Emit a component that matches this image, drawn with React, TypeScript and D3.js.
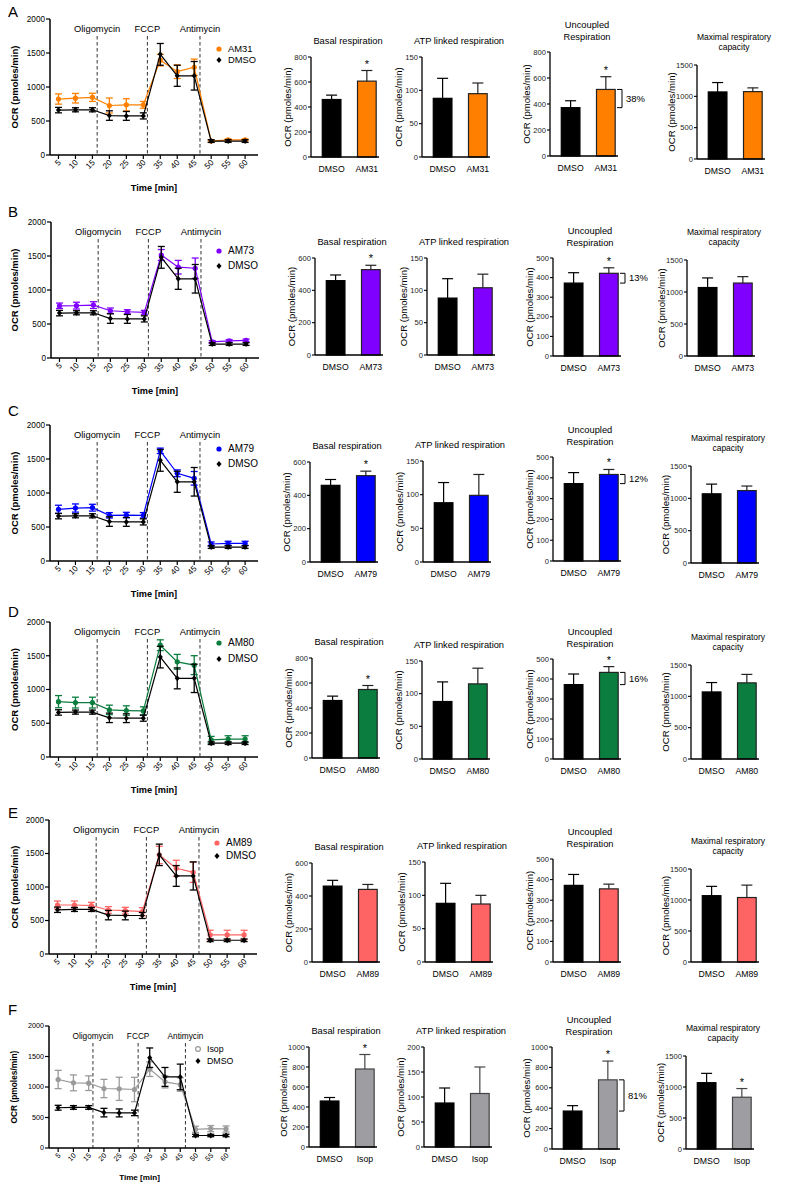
import React from "react";
import * as d3 from "d3";

const FONT = "'Liberation Sans', Arial, Helvetica, sans-serif";

// ---------- time-course data (OCR, pmoles/min) ----------
const times = [5, 10, 15, 20, 25, 30, 35, 40, 45, 50, 55, 60];
const injectionNames = ["Oligomycin", "FCCP", "Antimycin"];
const injectionTimes = [16.4, 31.2, 46.7];
const ocrTicks = [0, 500, 1000, 1500, 2000];

const dmsoOCR = [660, 665, 665, 580, 575, 575, 1480, 1165, 1165, 205, 205, 205];
const dmsoOCRErr = [40, 30, 30, 70, 65, 45, 160, 155, 210, 20, 20, 20];

const am31OCR = [823, 835, 848, 728, 738, 738, 1395, 1225, 1290, 205, 222, 222];
const am31OCRErr = [75, 70, 60, 110, 90, 50, 85, 100, 120, 15, 15, 15];
const am73OCR = [768, 770, 778, 695, 680, 670, 1515, 1335, 1320, 236, 251, 258];
const am73OCRErr = [40, 50, 50, 40, 30, 30, 80, 100, 150, 20, 20, 20];
const am79OCR = [760, 779, 784, 672, 676, 672, 1620, 1290, 1216, 250, 260, 260];
const am79OCRErr = [60, 60, 50, 40, 40, 40, 40, 50, 100, 30, 30, 30];
const am80OCR = [820, 806, 806, 698, 688, 683, 1656, 1410, 1361, 255, 265, 265];
const am80OCRErr = [90, 80, 80, 70, 70, 60, 80, 110, 140, 50, 50, 50];
const am89OCR = [731, 731, 721, 657, 647, 632, 1478, 1279, 1219, 284, 284, 284];
const am89OCRErr = [60, 60, 50, 50, 50, 60, 130, 120, 150, 70, 70, 70];
const isopOCR = [1123, 1068, 1063, 975, 970, 959, 1293, 1085, 1041, 307, 318, 312];
const isopOCRErr = [150, 130, 120, 150, 190, 200, 120, 100, 110, 50, 50, 50];

// ---------- bar data: [Basal, ATP linked, Uncoupled, Maximal] ----------
const treatments = ["AM31", "AM73", "AM79", "AM80", "AM89", "Isop"];
const panelLetters = ["A", "B", "C", "D", "E", "F"];
const barTitles = [
  ["Basal respiration"],
  ["ATP linked respiration"],
  ["Uncoupled", "Respiration"],
  ["Maximal respiratory", "capacity"],
];
const dmsoBars = [460, 88, 372, 1070];
const dmsoBarErr = [35, 30, 53, 150];
const am31Bars = [607, 95, 512, 1075];
const am31BarErr = [85, 16, 98, 60];
const am73Bars = [528, 104, 422, 1140];
const am73BarErr = [27, 21, 28, 100];
const am79Bars = [518, 99, 416, 1120];
const am79BarErr = [27, 31, 24, 70];
const am80Bars = [548, 115, 433, 1215];
const am80BarErr = [32, 24, 29, 135];
const am89Bars = [440, 87, 355, 1040];
const am89BarErr = [30, 13, 23, 200];
const isopBars = [780, 107, 678, 835];
const isopBarErr = [145, 53, 184, 140];

const axisMaxA = [800, 150, 800, 1500];
const axisMaxB = [600, 150, 500, 1500];
const axisMaxC = [600, 150, 500, 1500];
const axisMaxD = [800, 150, 500, 1500];
const axisMaxE = [600, 150, 500, 1500];
const axisMaxF = [1000, 200, 1000, 1500];
const axisStepA = [200, 50, 200, 500];
const axisStepB = [200, 50, 100, 500];
const axisStepC = [200, 50, 100, 500];
const axisStepD = [200, 50, 100, 500];
const axisStepE = [200, 50, 100, 500];
const axisStepF = [200, 50, 200, 500];

const significantA = [true, false, true, false];
const significantB = [true, false, true, false];
const significantC = [true, false, true, false];
const significantD = [true, false, true, false];
const significantE = [false, false, false, false];
const significantF = [true, false, true, true];
const uncoupledIncrease = ["38%", "13%", "12%", "16%", "", "81%"];

// ---------- assembled tables ----------
const seriesOCR = [am31OCR, am73OCR, am79OCR, am80OCR, am89OCR, isopOCR];
const seriesOCRErr = [am31OCRErr, am73OCRErr, am79OCRErr, am80OCRErr, am89OCRErr, isopOCRErr];
const seriesBars = [am31Bars, am73Bars, am79Bars, am80Bars, am89Bars, isopBars];
const seriesBarErr = [am31BarErr, am73BarErr, am79BarErr, am80BarErr, am89BarErr, isopBarErr];
const axisMax = [axisMaxA, axisMaxB, axisMaxC, axisMaxD, axisMaxE, axisMaxF];
const axisStep = [axisStepA, axisStepB, axisStepC, axisStepD, axisStepE, axisStepF];
const significant = [significantA, significantB, significantC, significantD, significantE, significantF];

// ---------- styles & layout ----------
const lineColors = ["#FF8000", "#8000FF", "#0000FF", "#0B7D3E", "#FF6464", "#9A9A9A"];
const barColors = ["#FF8000", "#8000FF", "#0000FF", "#0B7D3E", "#FF6464", "#9E9EA2"];
const barStrokes = ["#222", "#222", "#222", "#222", "#222", "#444"];

const letterY = [17, 217, 416, 617, 818, 1015];
const lineLayouts = [
  { top: 19, bot: 155, left: 50, right: 258, tMin: 2.5, tMax: 63.8, leg: [49, 60], lx: 219, fs: 1 },
  { top: 222, bot: 358, left: 51, right: 259, tMin: 2.5, tMax: 63.8, leg: [251, 266], lx: 219, fs: 1 },
  { top: 425, bot: 561, left: 50, right: 258, tMin: 2.5, tMax: 63.8, leg: [449, 464], lx: 219, fs: 1 },
  { top: 622, bot: 757, left: 50, right: 258, tMin: 2.5, tMax: 63.8, leg: [643, 659], lx: 219, fs: 1 },
  { top: 820, bot: 954, left: 49, right: 257, tMin: 2.5, tMax: 63.8, leg: [843, 856], lx: 217, fs: 1 },
  { top: 1026, bot: 1148, left: 49, right: 230, tMin: 2, tMax: 61.3, leg: [1049, 1061], lx: 198, fs: 0.88 },
];
// [axisX, topY, bottomY] for each bar panel
const barLayouts = [
  [[311, 57, 157], [422, 57, 157], [550, 52, 156], [697, 65, 159]],
  [[315, 258, 355], [427, 258, 355], [553, 258, 356], [687, 260, 356]],
  [[310, 462, 562], [423, 461, 562], [553, 457, 561], [691, 466, 563]],
  [[312, 658, 758], [422, 661, 759], [553, 659, 759], [691, 665, 759]],
  [[312, 863, 962], [425, 862, 962], [553, 859, 962], [691, 869, 962]],
  [[309, 1047, 1147], [424, 1047, 1147], [552, 1047, 1149], [686, 1056, 1149]],
];

function diamond(cx: number, cy: number, s = 3) {
  return `M${cx},${cy - s}L${cx + s * 0.85},${cy}L${cx},${cy + s}L${cx - s * 0.85},${cy}Z`;
}

function Series({ vals, errs, color, x, y, kind }: any) {
  const line = d3
    .line<number>()
    .x((_, k) => x(times[k]))
    .y((v) => y(v));
  return (
    <g>
      <path d={line(vals) || ""} fill="none" stroke={color} strokeWidth={1.2} />
      {vals.map((v: number, k: number) => {
        const cx = x(times[k]);
        const y1 = y(v + errs[k]);
        const y2 = y(v - errs[k]);
        return (
          <g key={k} stroke={color} strokeWidth={1.3}>
            <line x1={cx} x2={cx} y1={y1} y2={y2} />
            <line x1={cx - 3.5} x2={cx + 3.5} y1={y1} y2={y1} />
            <line x1={cx - 3.5} x2={cx + 3.5} y1={y2} y2={y2} />
            {kind === "diamond" ? (
              <path d={diamond(cx, y(v))} fill={color} stroke="none" />
            ) : (
              <circle cx={cx} cy={y(v)} r={2.6} fill={color} stroke="none" />
            )}
          </g>
        );
      })}
    </g>
  );
}

function LinePanel({ i }: { i: number }) {
  const L = lineLayouts[i];
  const fs = L.fs;
  const x = d3.scaleLinear().domain([L.tMin, L.tMax]).range([L.left, L.right]);
  const y = d3.scaleLinear().domain([0, 2000]).range([L.bot, L.top]);
  const color = lineColors[i];
  const isIsop = treatments[i] === "Isop";
  const legFs = (i === 0 ? 9.4 : 10) * fs;
  return (
    <g fontFamily={FONT}>
      <text x={8} y={letterY[i]} fontSize={15}>
        {panelLetters[i]}
      </text>
      {injectionTimes.map((t, k) => (
        <g key={k}>
          <line x1={x(t)} x2={x(t)} y1={L.top + 17} y2={L.bot} stroke="#333" strokeWidth={1} strokeDasharray="3.5,2.5" />
          <text x={x(t)} y={L.top + 12.5} fontSize={9.4 * fs} textAnchor="middle">
            {injectionNames[k]}
          </text>
        </g>
      ))}
      <Series vals={seriesOCR[i]} errs={seriesOCRErr[i]} color={color} x={x} y={y} kind="circle" />
      <Series vals={dmsoOCR} errs={dmsoOCRErr} color="#000" x={x} y={y} kind="diamond" />
      <line x1={L.left} x2={L.left} y1={L.top} y2={L.bot} stroke="#000" strokeWidth={1.5} />
      <line x1={L.left} x2={L.right} y1={L.bot} y2={L.bot} stroke="#000" strokeWidth={1.5} />
      {ocrTicks.map((v) => (
        <g key={v}>
          <line x1={L.left - 4} x2={L.left} y1={y(v)} y2={y(v)} stroke="#000" strokeWidth={1.2} />
          <text x={L.left - 5} y={y(v) + 2.8 * fs} fontSize={8.2 * fs} textAnchor="end">
            {v}
          </text>
        </g>
      ))}
      {times.map((t) => (
        <g key={t}>
          <line x1={x(t)} x2={x(t)} y1={L.bot} y2={L.bot + 4} stroke="#000" strokeWidth={1.2} />
          <text
            transform={`translate(${x(t) + 3},${L.bot + 8}) rotate(-45)`}
            fontSize={8.2 * fs}
            textAnchor="end"
          >
            {t}
          </text>
        </g>
      ))}
      <text
        transform={`translate(${15},${(L.top + L.bot) / 2}) rotate(-90)`}
        fontSize={9.5 * fs}
        fontWeight="bold"
        textAnchor="middle"
        dominantBaseline="middle"
      >
        OCR (pmoles/min)
      </text>
      <text x={(L.left + L.right) / 2} y={L.bot + 36 * fs} fontSize={9.2 * fs} fontWeight="bold" textAnchor="middle">
        Time [min]
      </text>
      {isIsop ? (
        <circle cx={L.lx} cy={L.leg[0]} r={2.4} fill="#fff" stroke={color} strokeWidth={1.2} />
      ) : (
        <circle cx={L.lx} cy={L.leg[0]} r={2.6} fill={color} />
      )}
      <text x={L.lx + 9} y={L.leg[0] + 3.4 * fs} fontSize={legFs}>
        {treatments[i]}
      </text>
      <path d={diamond(L.lx, L.leg[1])} fill="#000" />
      <text x={L.lx + 9} y={L.leg[1] + 3.4 * fs} fontSize={legFs}>
        DMSO
      </text>
    </g>
  );
}

function BarPanel({ row, k }: { row: number; k: number }) {
  const [ax, top, bot] = barLayouts[row][k];
  const yMax = axisMax[row][k];
  const step = axisStep[row][k];
  const y = d3.scaleLinear().domain([0, yMax]).range([bot, top]);
  const cats = ["DMSO", treatments[row]];
  const xb = d3.scaleBand().domain(cats).range([ax, ax + 68]).paddingInner(0.47).paddingOuter(0.2).align(0.8);
  const vals = [dmsoBars[k], seriesBars[row][k]];
  const errs = [dmsoBarErr[k], seriesBarErr[row][k]];
  const fills = ["#000", barColors[row]];
  const strokes = ["#000", barStrokes[row]];
  const ticks = d3.range(0, yMax + 1, step);
  const bw = xb.bandwidth();
  const titleFs = k === 3 ? 8.5 : 9.3;
  const titleLines = barTitles[k];
  const titleBase = titleLines.length === 1 ? [top - 13] : k === 3 ? [top - 25, top - 15] : [top - 24, top - 12];
  const pct = k === 2 ? uncoupledIncrease[row] : "";
  const wide = String(yMax).length >= 4;
  return (
    <g fontFamily={FONT}>
      {titleLines.map((t, j) => (
        <text key={j} x={ax + 37} y={titleBase[j]} fontSize={titleFs} textAnchor="middle">
          {t}
        </text>
      ))}
      {cats.map((c, j) => {
        const bx = xb(c) as number;
        const cx = bx + bw / 2;
        const yt = y(vals[j]);
        const ye = y(vals[j] + errs[j]);
        return (
          <g key={c}>
            <rect x={bx} y={yt} width={bw} height={bot - yt} fill={fills[j]} stroke={strokes[j]} strokeWidth={1.2} />
            <line x1={cx} x2={cx} y1={yt} y2={ye} stroke={strokes[j]} strokeWidth={1.2} />
            <line x1={cx - 5.5} x2={cx + 5.5} y1={ye} y2={ye} stroke={strokes[j]} strokeWidth={1.2} />
            {j === 1 && significant[row][k] && (
              <text x={cx} y={ye - 3} fontSize={11} textAnchor="middle">
                *
              </text>
            )}
            <text x={cx} y={bot + 15} fontSize={8.7} textAnchor="middle">
              {c}
            </text>
          </g>
        );
      })}
      {pct && (
        <g>
          <path
            d={`M${ax + 67},${y(vals[1])}H${ax + 72}V${y(vals[0])}H${ax + 67}`}
            fill="none"
            stroke="#000"
            strokeWidth={1}
          />
          <text x={ax + 76} y={(y(vals[1]) + y(vals[0])) / 2 + 3.3} fontSize={9.5}>
            {pct}
          </text>
        </g>
      )}
      <line x1={ax} x2={ax} y1={top} y2={bot} stroke="#000" strokeWidth={1.3} />
      <line x1={ax} x2={ax + 68} y1={bot} y2={bot} stroke="#000" strokeWidth={1.3} />
      {ticks.map((v) => (
        <g key={v}>
          <line x1={ax - 3} x2={ax} y1={y(v)} y2={y(v)} stroke="#000" strokeWidth={1.1} />
          <text x={ax - 4} y={y(v) + 2.6} fontSize={7.6} textAnchor="end" fill="#222">
            {v}
          </text>
        </g>
      ))}
      <text
        transform={`translate(${ax - (wide ? 25 : 22.5)},${(top + bot) / 2}) rotate(-90)`}
        fontSize={9.6}
        textAnchor="middle"
        dominantBaseline="middle"
      >
        OCR (pmoles/min)
      </text>
    </g>
  );
}

export default function App() {
  return (
    <svg
      width={791}
      height={1191}
      style={{ position: "absolute", left: 0, top: 0, background: "#fff" }}
      xmlns="http://www.w3.org/2000/svg"
    >
      <rect width={791} height={1191} fill="#fff" />
      {treatments.map((_, i) => (
        <g key={i}>
          <LinePanel i={i} />
          {[0, 1, 2, 3].map((k) => (
            <BarPanel key={k} row={i} k={k} />
          ))}
        </g>
      ))}
    </svg>
  );
}
